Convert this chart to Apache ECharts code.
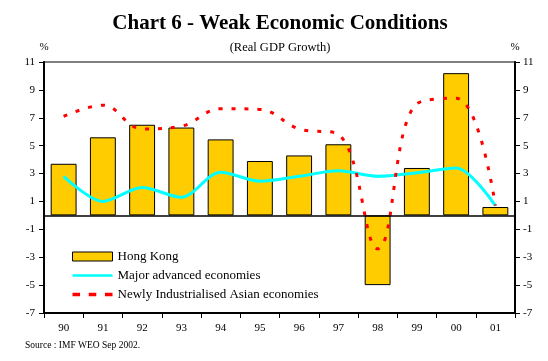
<!DOCTYPE html>
<html><head><meta charset="utf-8">
<script src="https://cdn.jsdelivr.net/npm/echarts@6/dist/echarts.min.js"></script>
<style>html,body{margin:0;padding:0;background:#fff}#c{width:548px;height:361px}</style>
</head><body><div id="c"></div>
<script>
const years = ['90','91','92','93','94','95','96','97','98','99','00','01'];
const hongKong = [3.7, 5.6, 6.5, 6.3, 5.45, 3.9, 4.3, 5.1, -5.0, 3.4, 10.2, 0.6];
const majorAdvanced = [2.8, 1.0, 2.0, 1.3, 3.1, 2.45, 2.8, 3.2, 2.8, 3.05, 3.4, 0.7];
const newlyIndAsian = [7.1, 7.9, 6.2, 6.4, 7.65, 7.6, 6.2, 5.8, -2.4, 8.0, 8.4, 0.7];
const yMin = -7, yMax = 11, yStep = 2;
const serif = 'Liberation Serif';

const chart = echarts.init(document.getElementById('c'), null, {renderer:'canvas'});
const yAxisBase = {
  type:'value', min:yMin, max:yMax, interval:yStep,
  name:'%', nameLocation:'end', nameGap:9,
  nameTextStyle:{fontFamily:serif, fontSize:11, color:'#000'},
  axisLine:{show:true, lineStyle:{color:'#000', width:2}},
  axisTick:{show:true, length:5, lineStyle:{color:'#000', width:1}},
  axisLabel:{fontFamily:serif, fontSize:11, color:'#000', margin:9},
  splitLine:{show:false}
};
chart.setOption({
  animation:false,
  backgroundColor:'#fff',
  graphic:[
    {type:'text', x:280, y:13, style:{text:'Chart 6 - Weak Economic Conditions', align:'center', verticalAlign:'top', fontFamily:serif, fontWeight:'bold', fontSize:21, fill:'#000'}},
    {type:'text', x:280, y:41, style:{text:'(Real GDP Growth)', align:'center', verticalAlign:'top', fontFamily:serif, fontSize:12.5, fill:'#000'}},
    {type:'text', x:25, y:340, style:{text:'Source : IMF WEO Sep 2002.', verticalAlign:'top', fontFamily:serif, fontSize:9.5, fill:'#000'}}
  ],
  grid:{left:44, right:33, top:62, bottom:48, show:true, borderColor:'#808080', borderWidth:2, backgroundColor:'transparent'},
  legend:{
    orient:'vertical', left:67, top:245, itemWidth:40, itemHeight:9, itemGap:6, padding:5,
    textStyle:{fontFamily:serif, fontSize:13, color:'#000'},
    data:[
      {name:'Hong Kong', icon:'rect', itemStyle:{color:'#FFCC00', borderColor:'#000', borderWidth:1}},
      {name:'Major advanced economies', icon:'path://M0,0h40v2.5h-40z'},
      {name:'Newly Industrialised Asian economies', icon:'path://M0,0h6.5v3h-6.5zM14,0h6.5v3h-6.5zM28,0h6.5v3h-6.5z'}
    ]
  },
  xAxis:{
    type:'category', data:years, boundaryGap:true,
    axisLine:{onZero:false, lineStyle:{color:'#000', width:2}},
    axisTick:{show:true, length:5, alignWithLabel:false, lineStyle:{color:'#000'}},
    axisLabel:{fontFamily:serif, fontSize:11, color:'#000', margin:10}
  },
  yAxis:[
    Object.assign({}, yAxisBase, {position:'left'}),
    Object.assign({}, yAxisBase, {position:'right', axisLabel:Object.assign({}, yAxisBase.axisLabel, {margin:8})})
  ],
  series:[
    {name:'Hong Kong', type:'bar', data:hongKong, barWidth:'66%',
     itemStyle:{color:'#FFCC00', borderColor:'#000', borderWidth:1},
     markLine:{silent:true, symbol:'none', label:{show:false},
       lineStyle:{color:'#000', width:1.5, type:'solid'}, data:[{yAxis:0}]}},
    {name:'Major advanced economies', type:'line', data:majorAdvanced, smooth:0.3,
     symbol:'none', lineStyle:{color:'#00FFFF', width:3}, itemStyle:{color:'#00FFFF'}, z:3},
    {name:'Newly Industrialised Asian economies', type:'line', data:newlyIndAsian, smooth:0.4,
     symbol:'none', lineStyle:{color:'#FF0000', width:3, type:[4,9]}, itemStyle:{color:'#FF0000'}, z:4}
  ]
});
</script></body></html>
